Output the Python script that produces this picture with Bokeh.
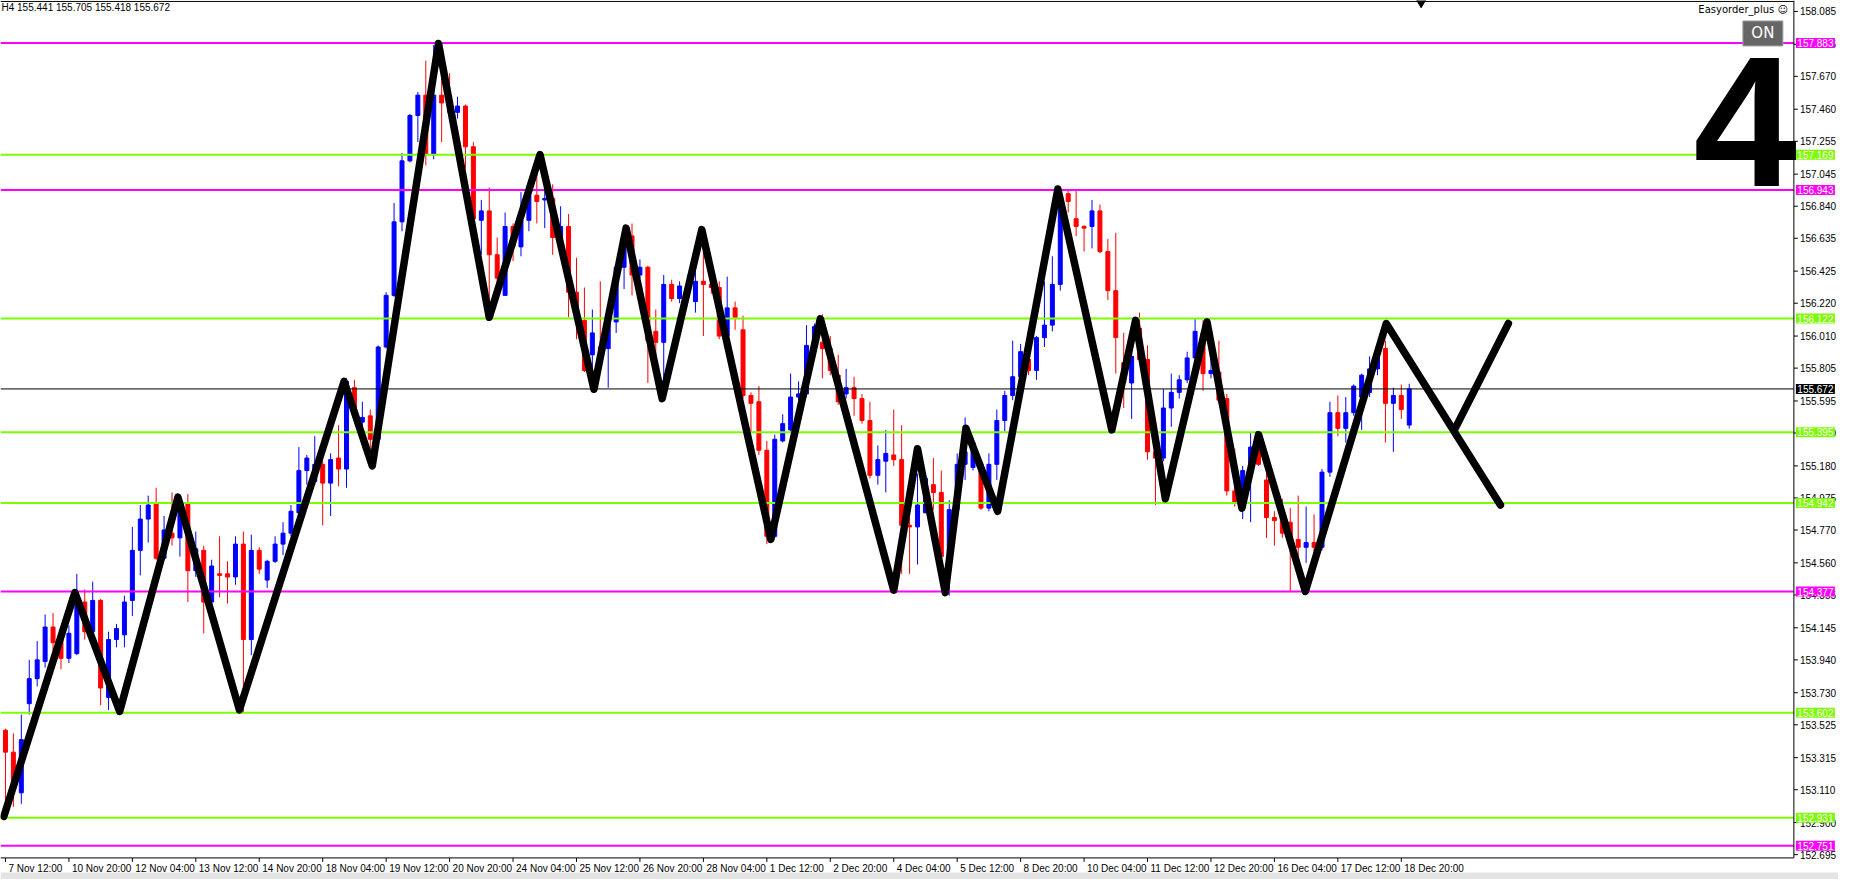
from bokeh.plotting import figure
from bokeh.models import Range1d
from bokeh.core.properties import value
from bokeh.embed import file_html
from bokeh.resources import INLINE

# ---------------- data (H4 candles) ----------------
opens = [153.49, 153.35, 153.09, 153.66, 153.82, 153.93, 154.15, 154.10, 153.95, 153.98,
         154.31, 154.12, 154.32, 153.70, 154.07, 154.10, 154.32, 154.64, 154.84, 154.94,
         154.59, 154.75, 154.72, 154.94, 154.51, 154.64, 154.31, 154.49, 154.49, 154.47,
         154.68, 154.07, 154.64, 154.45, 154.57, 154.68, 154.75, 154.88, 155.15, 155.08,
         155.19, 155.07, 155.23, 155.16, 155.68, 155.46, 155.50, 155.35, 155.94, 156.27,
         156.74, 157.13, 157.42, 157.55, 157.17, 157.55, 157.55, 157.44, 157.48, 157.22,
         156.75, 156.81, 156.53, 156.27, 156.71, 156.58, 156.75, 156.91, 156.88, 156.89,
         156.64, 156.71, 156.29, 156.11, 155.89, 155.94, 155.93, 156.10, 156.45, 156.65,
         156.40, 156.45, 156.04, 155.97, 156.34, 156.25, 156.26, 156.23, 156.36, 156.34,
         156.32, 156.01, 156.19, 156.05, 155.63, 155.59, 155.28, 154.73, 155.34, 155.41,
         155.62, 155.64, 155.95, 155.97, 155.93, 155.76, 155.64, 155.68, 155.61, 155.47,
         155.12, 155.21, 155.25, 155.22, 154.80, 154.79, 154.88, 155.06, 155.01, 154.60,
         154.90, 155.19, 155.17, 155.19, 154.91, 155.19, 155.47, 155.63, 155.75, 155.86,
         155.79, 156.00, 156.08, 156.34, 156.92, 156.76, 156.71, 156.71, 156.81, 156.55,
         156.30, 155.84, 155.71, 156.06, 155.86, 155.27, 155.23, 155.55, 155.65, 155.73,
         155.87, 156.03, 155.77, 155.78, 155.61, 155.02, 154.95, 155.15, 155.31, 155.09,
         154.85, 154.85, 154.82, 154.71, 154.66, 154.69, 154.66, 155.14, 155.52, 155.42,
         155.52, 155.62, 155.65, 155.80, 155.93, 155.58, 155.63, 155.441]
highs = [153.50, 153.47, 153.59, 153.94, 154.06, 154.23, 154.24, 154.11, 154.16, 154.49,
         154.39, 154.44, 154.33, 154.12, 154.17, 154.35, 154.79, 154.93, 154.99, 155.04,
         154.86, 155.01, 154.98, 155.00, 154.76, 154.67, 154.58, 154.73, 154.57, 154.73,
         154.76, 154.74, 154.66, 154.58, 154.73, 154.82, 154.93, 155.30, 155.25, 155.37,
         155.21, 155.26, 155.44, 155.74, 155.73, 155.59, 155.54, 155.95, 156.29, 156.86,
         157.18, 157.43, 157.57, 157.77, 157.87, 157.88, 157.69, 157.54, 157.49, 157.25,
         156.88, 156.96, 156.64, 156.80, 156.73, 156.93, 156.94, 157.17, 156.94, 156.98,
         156.84, 156.79, 156.51, 156.32, 156.18, 156.36, 156.12, 156.47, 156.72, 156.73,
         156.50, 156.46, 156.18, 156.40, 156.37, 156.36, 156.40, 156.45, 156.69, 156.35,
         156.36, 156.39, 156.23, 156.14, 155.65, 155.69, 155.34, 155.38, 155.51, 155.77,
         155.72, 156.08, 156.09, 156.15, 156.01, 155.89, 155.80, 155.75, 155.64, 155.59,
         155.31, 155.41, 155.54, 155.44, 154.85, 155.13, 155.13, 155.23, 155.15, 154.96,
         155.26, 155.49, 155.36, 155.21, 155.26, 155.54, 155.66, 155.98, 155.96, 155.90,
         156.01, 156.36, 156.52, 156.94, 156.95, 156.94, 156.72, 156.88, 156.85, 156.63,
         156.67, 156.03, 155.94, 156.16, 155.95, 155.28, 155.67, 155.77, 155.76, 155.91,
         156.12, 156.11, 155.87, 155.98, 155.64, 155.29, 155.18, 155.39, 155.38, 155.14,
         154.89, 154.97, 154.91, 154.99, 154.92, 154.87, 155.16, 155.59, 155.63, 155.62,
         155.70, 155.77, 155.88, 155.97, 155.98, 155.68, 155.70, 155.705]
lows = [152.94, 153.00, 153.02, 153.59, 153.77, 153.89, 154.00, 153.88, 153.92, 153.97,
        154.07, 154.10, 153.65, 153.62, 154.02, 154.02, 154.22, 154.48, 154.69, 154.58,
        154.58, 154.67, 154.60, 154.31, 154.47, 154.11, 154.30, 154.34, 154.30, 154.42,
        153.60, 153.97, 154.49, 154.40, 154.56, 154.61, 154.73, 154.87, 155.06, 155.06,
        154.80, 154.86, 155.05, 155.04, 155.48, 155.40, 155.18, 155.35, 155.93, 156.26,
        156.68, 157.12, 157.25, 157.10, 157.14, 157.25, 157.42, 157.40, 157.08, 156.74,
        156.53, 156.12, 156.36, 156.27, 156.49, 156.52, 156.68, 156.73, 156.70, 156.53,
        156.60, 156.13, 155.99, 155.78, 155.67, 155.89, 155.68, 156.03, 156.31, 156.27,
        156.38, 155.71, 155.89, 155.61, 156.23, 156.22, 156.22, 156.16, 156.01, 156.28,
        155.99, 156.00, 156.05, 155.61, 155.39, 155.25, 154.68, 154.72, 155.33, 155.40,
        155.60, 155.62, 155.93, 155.74, 155.76, 155.57, 155.61, 155.50, 155.45, 155.10,
        155.06, 155.01, 155.18, 154.49, 154.49, 154.55, 154.88, 154.90, 154.55, 154.35,
        154.88, 155.09, 155.15, 154.90, 154.89, 155.09, 155.40, 155.60, 155.72, 155.76,
        155.73, 155.94, 156.04, 156.30, 156.80, 156.65, 156.55, 156.57, 156.54, 156.24,
        155.77, 155.55, 155.48, 155.83, 155.22, 154.93, 155.21, 155.43, 155.61, 155.71,
        155.85, 155.66, 155.74, 155.58, 154.99, 154.92, 154.84, 154.82, 155.18, 154.72,
        154.67, 154.72, 154.38, 154.50, 154.56, 154.50, 154.64, 155.11, 155.37, 155.33,
        155.50, 155.41, 155.62, 155.76, 155.33, 155.27, 155.48, 155.418]
closes = [153.35, 153.13, 153.43, 153.82, 153.94, 154.15, 154.05, 153.95, 154.11, 154.35,
          154.12, 154.32, 153.76, 154.07, 154.14, 154.31, 154.64, 154.84, 154.93, 154.59,
          154.77, 154.72, 154.94, 154.51, 154.65, 154.31, 154.54, 154.48, 154.47, 154.68,
          154.07, 154.64, 154.52, 154.57, 154.68, 154.75, 154.89, 155.15, 155.23, 155.19,
          155.07, 155.22, 155.16, 155.72, 155.50, 155.49, 155.35, 155.94, 156.27, 156.74,
          157.13, 157.42, 157.55, 157.17, 157.55, 157.50, 157.44, 157.48, 157.22, 156.76,
          156.81, 156.53, 156.38, 156.71, 156.58, 156.75, 156.91, 156.87, 156.89, 156.64,
          156.71, 156.29, 156.12, 155.79, 156.03, 155.93, 156.10, 156.45, 156.63, 156.40,
          156.45, 155.98, 155.97, 156.34, 156.25, 156.33, 156.33, 156.36, 156.34, 156.32,
          156.01, 156.19, 156.13, 155.63, 155.58, 155.28, 154.73, 155.35, 155.45, 155.62,
          155.64, 155.95, 156.07, 155.93, 155.79, 155.59, 155.68, 155.61, 155.47, 155.12,
          155.22, 155.26, 155.22, 154.80, 154.79, 154.93, 155.10, 155.01, 154.60, 154.90,
          155.19, 155.27, 155.33, 154.91, 155.19, 155.47, 155.63, 155.75, 155.91, 155.79,
          156.00, 156.08, 156.34, 156.85, 156.87, 156.71, 156.70, 156.81, 156.55, 156.30,
          156.00, 155.71, 155.88, 155.86, 155.27, 155.23, 155.55, 155.65, 155.73, 155.87,
          156.04, 155.77, 155.79, 155.60, 155.02, 154.95, 155.15, 155.30, 155.19, 154.85,
          154.83, 154.75, 154.68, 154.66, 154.69, 154.66, 155.14, 155.52, 155.42, 155.52,
          155.69, 155.76, 155.80, 155.93, 155.58, 155.63, 155.54, 155.672]

# ZigZag vertices (bar index, price) and the projected leg
zz_bar = [-0.2, 8.75, 14.4, 21.75, 29.5, 42.7, 46.25, 54.6, 61.0, 67.4, 74.2, 78.25, 82.8,
          87.8, 96.5, 102.75, 112.0, 115.0, 118.5, 121.1, 125.1, 132.7, 139.5, 142.5, 146.25,
          151.5, 155.9, 158.0, 163.9, 174.1, 188.5]
zz_price = [152.94, 154.37, 153.61, 154.98, 153.62, 155.72, 155.18, 157.88, 156.13, 157.17,
            155.67, 156.70, 155.61, 156.69, 154.71, 156.12, 154.385, 155.29, 154.37, 155.42,
            154.89, 156.95, 155.41, 156.11, 154.97, 156.10, 154.91, 155.38, 154.377, 156.09,
            154.93]
proj_bar = [182.7, 189.5]
proj_price = [155.41, 156.09]

# horizontal levels
magenta_levels = [157.883, 156.943, 154.377, 152.751]
green_levels = [157.169, 156.122, 155.395, 154.942, 153.602, 152.931]
last_price = 155.672

# axes
time_tick_bars = [0, 8, 16, 24, 32, 40, 48, 56, 64, 72, 80, 88, 96, 104, 112, 120,
                  128, 136, 144, 152, 160, 168, 176]
time_tick_labels = ["7 Nov 12:00", "10 Nov 20:00", "12 Nov 04:00", "13 Nov 12:00",
                    "14 Nov 20:00", "18 Nov 04:00", "19 Nov 12:00", "20 Nov 20:00",
                    "24 Nov 04:00", "25 Nov 12:00", "26 Nov 20:00", "28 Nov 04:00",
                    "1 Dec 12:00", "2 Dec 20:00", "4 Dec 04:00", "5 Dec 12:00",
                    "8 Dec 20:00", "10 Dec 04:00", "11 Dec 12:00", "12 Dec 20:00",
                    "16 Dec 04:00", "17 Dec 12:00", "18 Dec 20:00"]
price_ticks = [158.085, 157.875, 157.670, 157.460, 157.255, 157.045, 156.840, 156.635,
               156.425, 156.220, 156.010, 155.805, 155.595, 155.390, 155.180, 154.975,
               154.770, 154.560, 154.355, 154.145, 153.940, 153.730, 153.525, 153.315,
               153.110, 152.900, 152.695]
header_text = "H4 155.441 155.705 155.418 155.672"
expert_text = "Easyorder_plus \u263a"
button_text = "ON"
wave_text = "4"
shift_marker_bar = 178.5

# ---------------- layout (bar / price coordinates of the chart window) ----------------
W, H = 1838, 879
X_START, X_END = -0.625, 231.125      # whole canvas, in bars
P_BOT, P_TOP = 152.536, 158.155       # whole canvas, in price
AXIS_X = 225.5                        # price-scale line
FRAME_TOP, FRAME_BOT = 158.149, 152.674
PXB = W / (X_END - X_START)           # px per bar
PXP = H / (P_TOP - P_BOT)             # px per price unit
FONT = value("Liberation Sans")

p = figure(width=W, height=H, output_backend="svg", toolbar_location=None,
           x_range=Range1d(X_START, X_END), y_range=Range1d(P_BOT, P_TOP),
           min_border=0)
p.axis.visible = False
p.grid.visible = False
p.outline_line_color = None
p.background_fill_color = "white"
p.border_fill_color = "white"

# window status strip at the very bottom
p.quad(left=[X_START], right=[X_END], bottom=[P_BOT], top=[P_BOT + 7 / PXP],
       fill_color="#e4e4e4", line_color=None)

# candles
idx = list(range(len(opens)))
colors = ["#0000FF" if c >= o else "#FF0000" for o, c in zip(opens, closes)]
tops = [max(o, c) for o, c in zip(opens, closes)]
bots = [min(o, c) for o, c in zip(opens, closes)]
p.segment(x0=idx, y0=lows, x1=idx, y1=highs, line_color=colors, line_width=1)
p.vbar(x=idx, width=0.5, top=tops, bottom=bots, fill_color=colors,
       line_color=colors, line_width=1)

# levels (end at the price scale)
n_m, n_g = len(magenta_levels), len(green_levels)
p.segment(x0=[X_START] * n_m, x1=[AXIS_X] * n_m, y0=magenta_levels, y1=magenta_levels,
          line_color="#FF00FF", line_width=2)
p.segment(x0=[X_START] * n_g, x1=[AXIS_X] * n_g, y0=green_levels, y1=green_levels,
          line_color="#7CFC00", line_width=2)
p.segment(x0=[X_START], x1=[AXIS_X], y0=[last_price], y1=[last_price],
          line_color="black", line_width=1)

# zigzag
p.line(zz_bar, zz_price, line_color="black", line_width=7.5, line_join="round", line_cap="round")
p.line(proj_bar, proj_price, line_color="black", line_width=7.5, line_join="round", line_cap="round")

# chart frame and price scale line
p.segment(x0=[X_START, X_START, AXIS_X], x1=[AXIS_X, AXIS_X, AXIS_X],
          y0=[FRAME_TOP, FRAME_BOT, FRAME_BOT], y1=[FRAME_TOP, FRAME_BOT, P_TOP],
          line_color="black", line_width=1)

# price scale ticks + labels
n_t = len(price_ticks)
p.segment(x0=[AXIS_X] * n_t, x1=[AXIS_X + 4 / PXB] * n_t, y0=price_ticks, y1=price_ticks,
          line_color="black", line_width=1)
p.text(x=[AXIS_X] * n_t, y=price_ticks, text=[f"{v:.3f}" for v in price_ticks],
       x_offset=6, text_font=FONT, text_font_size=value("10px"), text_color="black",
       text_align="left", text_baseline="middle")

# time scale ticks + labels
n_x = len(time_tick_bars)
p.segment(x0=time_tick_bars, x1=time_tick_bars, y0=[FRAME_BOT] * n_x,
          y1=[FRAME_BOT - 4 / PXP] * n_x, line_color="black", line_width=1)
p.text(x=time_tick_bars, y=[FRAME_BOT] * n_x, text=time_tick_labels, x_offset=3, y_offset=5,
       text_font=FONT, text_font_size=value("10px"), text_color="black",
       text_align="left", text_baseline="top")

# level labels on the price scale
lab_vals = magenta_levels + green_levels + [last_price]
lab_cols = ["#FF00FF"] * n_m + ["#7CFC00"] * n_g + ["black"]
lab_x = [AXIS_X + 21.5 / PXB] * len(lab_vals)
p.rect(x=lab_x, y=lab_vals, width=39, height=10, width_units="screen", height_units="screen",
       fill_color=lab_cols, line_color=None)
p.text(x=lab_x, y=lab_vals, text=[f"{v:.3f}" for v in lab_vals], text_font=FONT,
       text_font_size=value("10px"), text_color="white", text_align="center",
       text_baseline="middle")

# shift marker
p.scatter([shift_marker_bar], [FRAME_TOP], marker="inverted_triangle", size=11,
          fill_color="black", line_color="black")

# header, expert name, button, wave number
p.text(x=[X_START], y=[FRAME_TOP], text=[header_text], x_offset=1, y_offset=1,
       text_font=FONT, text_font_size=value("10px"), text_color="black",
       text_align="left", text_baseline="top")
p.text(x=[AXIS_X], y=[FRAME_TOP], text=[expert_text], x_offset=-6, y_offset=3,
       text_font=value("DejaVu Sans"), text_font_size=value("10px"), text_color="black",
       text_align="right", text_baseline="top")
btn_x = AXIS_X - 31 / PXB
btn_y = FRAME_TOP - 32 / PXP
p.rect(x=[btn_x], y=[btn_y], width=40, height=25, width_units="screen", height_units="screen",
       fill_color="#666666", line_color="#a0a0a0", line_width=1)
p.text(x=[btn_x], y=[btn_y], text=[button_text], text_font=value("DejaVu Sans"),
       text_font_size=value("15px"), text_color="white", text_align="center",
       text_baseline="middle")
p.text(x=[AXIS_X], y=[magenta_levels[1]], text=[wave_text], x_offset=3, y_offset=-68,
       text_font=FONT, text_font_style="bold", text_font_size=value("186px"),
       text_color="black", text_align="right", text_baseline="middle")

open("out.html", "w").write(file_html(p, INLINE))
